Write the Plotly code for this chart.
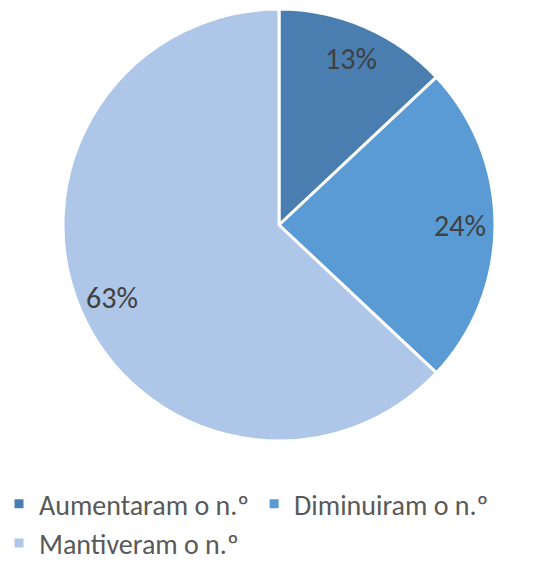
import math
import plotly.graph_objects as go

labels = ["Aumentaram o n.º", "Diminuiram o n.º", "Mantiveram o n.º"]
values = [13, 24, 63]
colors = ["#4A7EB1", "#5A9BD5", "#AEC6E7"]

W, H = 539, 565
B = 94                       # bottom margin reserved for the legend
PW, PH = W, H - B            # plot-area size
cx, cy, r = 271, 217, 216    # pie centre / radius in px (figure coords)

FONT = "Carlito, Lato, sans-serif"

fig = go.Figure(go.Pie(
    labels=labels, values=values, sort=False, direction="clockwise", rotation=0,
    marker=dict(colors=colors, line=dict(color="white", width=3)),
    textinfo="none", textposition="none",
    domain=dict(x=[(cx - r) / PW, (cx + r) / PW],
                y=[(PH - cy - r) / PH, (PH - cy + r) / PH]),
    hoverinfo="label+percent",
))

# percentage labels, placed along each slice's mid-angle
total = sum(values)
cum = 0
for v in values:
    mid = (cum + v / 2) / total * 2 * math.pi
    cum += v
    px = cx + 0.84 * r * math.sin(mid)
    py = cy - 0.84 * r * math.cos(mid)
    fig.add_annotation(x=px / PW, y=1 - py / PH, xref="paper", yref="paper",
                       xanchor="center", yanchor="middle",
                       text=f"{round(v / total * 100)}%", showarrow=False,
                       font=dict(family=FONT, size=30, color="#404040"))

fig.update_layout(
    width=W, height=H, margin=dict(l=0, r=0, t=0, b=B, autoexpand=False),
    paper_bgcolor="white", plot_bgcolor="white",
    legend=dict(orientation="h", x=-9 / PW, xanchor="left", y=0, yanchor="top",
                font=dict(family=FONT, size=28, color="#595959")),
)
fig.write_html("out.html")
